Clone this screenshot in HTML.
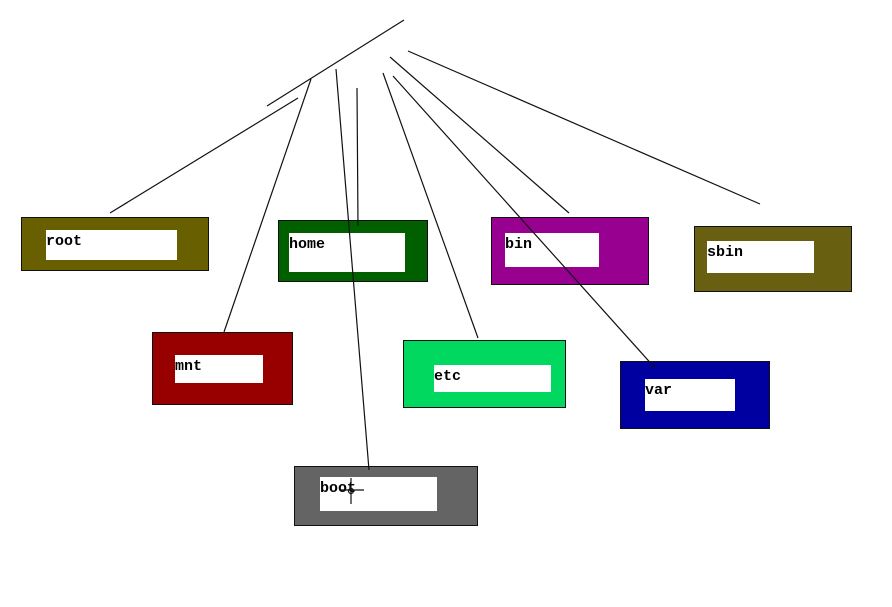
<!DOCTYPE html>
<html><head><style>
body{margin:0;background:#fff;width:892px;height:607px;overflow:hidden;position:relative}
.o{position:absolute;border:1px solid #111;box-sizing:border-box}
.i{position:absolute;background:#fff;font:bold 15px "Liberation Mono",monospace;color:#000;line-height:1;padding-top:4px;box-sizing:border-box}
svg{position:absolute;left:0;top:0}
</style></head><body>
<div class="o" style="left:21px;top:217px;width:188px;height:54px;background:#686000"></div>
<div class="i" style="left:46px;top:230px;width:131px;height:30px">root</div>
<div class="o" style="left:278px;top:220px;width:150px;height:62px;background:#006000"></div>
<div class="i" style="left:289px;top:233px;width:116px;height:39px">home</div>
<div class="o" style="left:152px;top:332px;width:141px;height:73px;background:#980000"></div>
<div class="i" style="left:175px;top:355px;width:88px;height:28px">mnt</div>
<div class="o" style="left:403px;top:340px;width:163px;height:68px;background:#00d860"></div>
<div class="i" style="left:434px;top:365px;width:117px;height:27px">etc</div>
<div class="o" style="left:620px;top:361px;width:150px;height:68px;background:#0000a0"></div>
<div class="i" style="left:645px;top:379px;width:90px;height:32px">var</div>
<div class="o" style="left:294px;top:466px;width:184px;height:60px;background:#646464"></div>
<div class="i" style="left:320px;top:477px;width:117px;height:34px">boot</div>
<div class="o" style="left:491px;top:217px;width:158px;height:68px;background:#980090"></div>
<div class="i" style="left:505px;top:233px;width:94px;height:34px">bin</div>
<div class="o" style="left:694px;top:226px;width:158px;height:66px;background:#686010"></div>
<div class="i" style="left:707px;top:241px;width:107px;height:32px">sbin</div>
<svg width="892" height="607" stroke="#111" stroke-width="1.2" fill="none">
<line x1="404" y1="20" x2="267" y2="106"/>
<line x1="298" y1="98" x2="110" y2="213"/>
<line x1="311" y1="79" x2="224" y2="332"/>
<line x1="336" y1="69" x2="369" y2="470"/>
<line x1="357" y1="88" x2="358" y2="226"/>
<line x1="383" y1="73" x2="478" y2="338"/>
<line x1="393" y1="76" x2="655" y2="368"/>
<line x1="390" y1="57" x2="569" y2="213"/>
<line x1="408" y1="51" x2="760" y2="204"/>
<line x1="351" y1="478" x2="351" y2="504"/>
<line x1="340" y1="490" x2="364" y2="490"/>
<circle cx="351" cy="491" r="2.5"/>
</svg>
</body></html>
